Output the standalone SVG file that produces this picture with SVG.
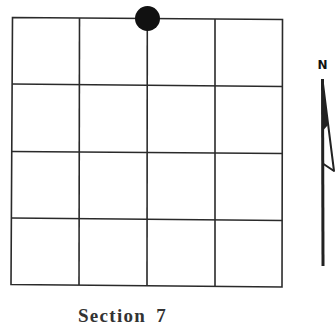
<svg xmlns="http://www.w3.org/2000/svg" width="336" height="327" viewBox="0 0 336 327">
<style>
.grid{stroke:#2a2a2a;stroke-width:1.6;fill:none}
.lbl{font-family:"Liberation Serif","DejaVu Serif",serif;font-weight:bold;fill:#333}
</style>
<rect width="336" height="327" fill="#fff"/>
<g id="grid">
<path class="grid" d="M12.5,17.5 L282.5,19.5 L282,287 L11,284.5 Z"/>
<path class="grid" d="M79.5,18 L79,285"/>
<path class="grid" d="M147.3,18.5 L147,285.5"/>
<path class="grid" d="M215,19 L215,286"/>
<path class="grid" d="M12.2,84 L282.5,86.5"/>
<path class="grid" d="M11.8,151.5 L282.3,153.5"/>
<path class="grid" d="M11.4,218 L282.2,220.5"/>
</g>
<g id="marker">
<circle cx="147.5" cy="18.5" r="12.5" fill="#111"/>
</g>
<g id="north-arrow">
<text x="322.5" y="69" font-size="12" font-weight="900" text-anchor="middle" style="font-family:'DejaVu Sans',sans-serif;fill:#111">N</text>
<path d="M322.5,79 L323,266" stroke="#222" stroke-width="3" fill="none"/>
<path d="M322.5,80 L334,171 L323.5,164" stroke="#222" stroke-width="2" fill="none" stroke-linejoin="round"/>
<path d="M322.5,80 L328,125 L323.5,130 Z" fill="#222"/>
</g>
<g id="caption">
<text class="lbl" x="78" y="322" font-size="19" letter-spacing="1.3">Section<tspan dx="10">7</tspan></text>
</g>
</svg>
